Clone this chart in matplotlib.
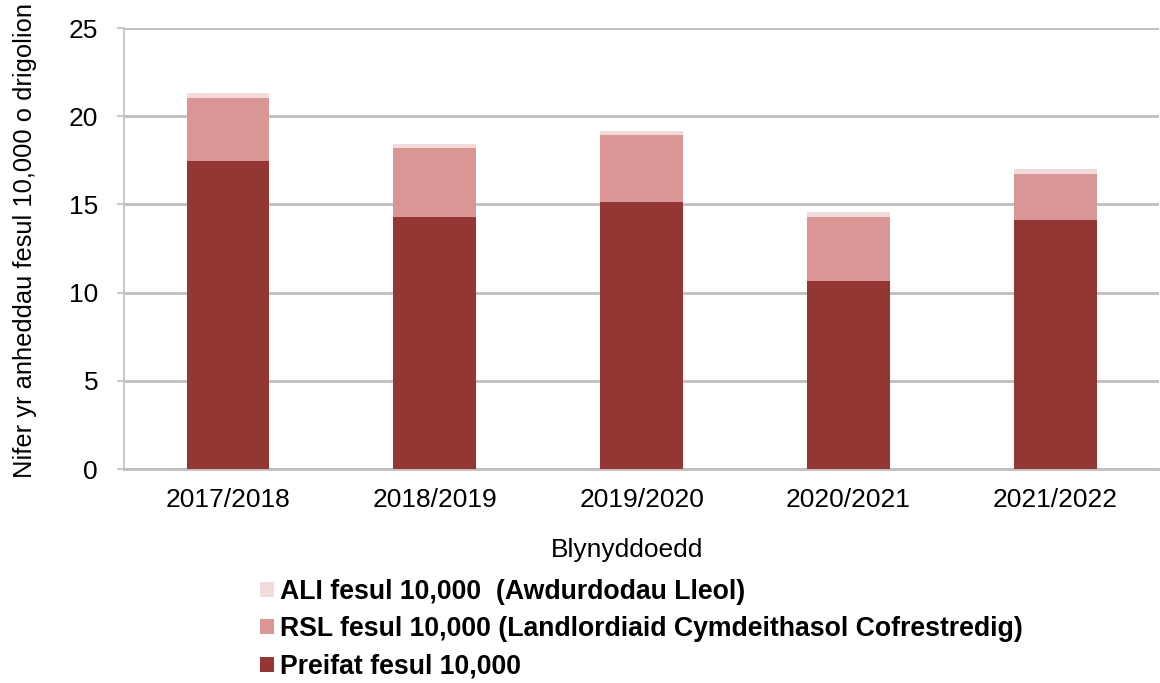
import matplotlib
matplotlib.use("Agg")
import matplotlib.pyplot as plt
import numpy as np

plt.rcParams['font.family'] = ['Liberation Sans', 'DejaVu Sans']

years = ["2017/2018", "2018/2019", "2019/2020", "2020/2021", "2021/2022"]
preifat = [17.46, 14.30, 15.15, 10.66, 14.13]
rsl = [3.57, 3.90, 3.78, 3.63, 2.59]
ali = [0.27, 0.22, 0.23, 0.28, 0.28]

labels = ["ALI fesul 10,000  (Awdurdodau Lleol)",
          "RSL fesul 10,000 (Landlordiaid Cymdeithasol Cofrestredig)",
          "Preifat fesul 10,000"]
colors = {"preifat": "#943634", "rsl": "#D99694", "ali": "#F2DCDB"}

fig = plt.figure(figsize=(11.6, 6.83), dpi=100)
ax = fig.add_axes([0.1073, 0.3133, 0.8917, 0.6457])

x = np.arange(len(years))
w = 0.4
b1 = ax.bar(x, preifat, w, color=colors["preifat"], label=labels[2], zorder=3)
bottom2 = np.array(preifat)
b2 = ax.bar(x, rsl, w, bottom=bottom2, color=colors["rsl"], label=labels[1], zorder=3)
bottom3 = bottom2 + np.array(rsl)
b3 = ax.bar(x, ali, w, bottom=bottom3, color=colors["ali"], label=labels[0], zorder=3)

ax.set_xlim(-0.5, len(years) - 0.5)
ax.set_ylim(0, 25)
ax.set_yticks([0, 5, 10, 15, 20, 25])
ax.set_xticks(x)
ax.set_xticklabels(years)
ax.tick_params(axis='both', labelsize=19, colors='#000000')
ax.tick_params(axis='y', length=5, color='#BFBFBF', width=1.2, pad=14)
ax.tick_params(axis='x', length=0, pad=14)
ax.yaxis.grid(True, color='#BFBFBF', linewidth=2, zorder=0)
for s in ['top', 'right']:
    ax.spines[s].set_visible(False)
ax.spines['left'].set_color('#BFBFBF')
ax.spines['left'].set_linewidth(1.2)
ax.spines['bottom'].set_color('#BFBFBF')
ax.spines['bottom'].set_linewidth(2)

fig.text(25 / 1160, 1 - 240 / 683, "Nifer yr anheddau fesul 10,000 o drigolion",
         fontsize=18.4, rotation=90, ha='center', va='center')
fig.text(627 / 1160, 1 - 550 / 683, "Blynyddoedd", fontsize=19, ha='center', va='center')

leg = fig.legend(handles=[b3, b2, b1], labels=labels, loc='upper left',
                 bbox_to_anchor=(0.2241, 0.1525), frameon=False, ncol=1,
                 prop={'size': 19.2, 'weight': 'bold'}, handlelength=0.52,
                 handleheight=0.5, handletextpad=0.22, labelspacing=0.43,
                 borderaxespad=0, borderpad=0)

fig.savefig("out.png", dpi=100)
